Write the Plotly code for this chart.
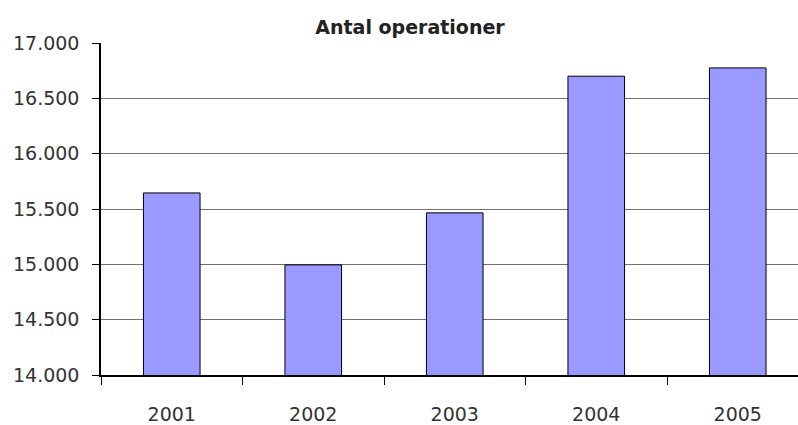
import plotly.graph_objects as go

years = ["2001", "2002", "2003", "2004", "2005"]
operations = [15645, 14995, 15465, 16700, 16775]

y_ticks = [14000, 14500, 15000, 15500, 16000, 16500, 17000]

font_family = "'DejaVu Sans', sans-serif"
text_color = "#333333"

fig = go.Figure(
    go.Bar(
        x=years,
        y=operations,
        width=0.4,
        marker=dict(color="#9999FF", line=dict(color="#000000", width=1)),
    )
)

fig.update_layout(
    width=798,
    height=425,
    margin=dict(l=101, r=0, t=43, b=48),
    paper_bgcolor="white",
    plot_bgcolor="white",
    separators=",.",
    showlegend=False,
    font=dict(family=font_family, size=19, color=text_color),
    title=dict(
        text="<b>Antal operationer</b>",
        x=410 / 798,
        xref="container",
        xanchor="center",
        y=1 - 27 / 425,
        yref="container",
        yanchor="middle",
        font=dict(family=font_family, size=19, color="#222222"),
    ),
)

fig.update_xaxes(
    type="category",
    range=[-0.5, -0.5 + (798 - 101) / 141.5],
    showline=True,
    linecolor="#000000",
    linewidth=1.5,
    ticks="outside",
    tickson="boundaries",
    ticklen=8,
    tickcolor="#000000",
    ticklabelstandoff=21,
    showgrid=False,
)

fig.update_yaxes(
    range=[14000, 17000],
    tickvals=y_ticks,
    tickformat=",d",
    showline=True,
    linecolor="#000000",
    linewidth=1.5,
    ticks="outside",
    ticklen=7,
    tickcolor="#000000",
    ticklabelstandoff=9,
    showgrid=True,
    gridcolor="#707070",
    gridwidth=1,
    zeroline=False,
)

fig.write_html("out.html")
